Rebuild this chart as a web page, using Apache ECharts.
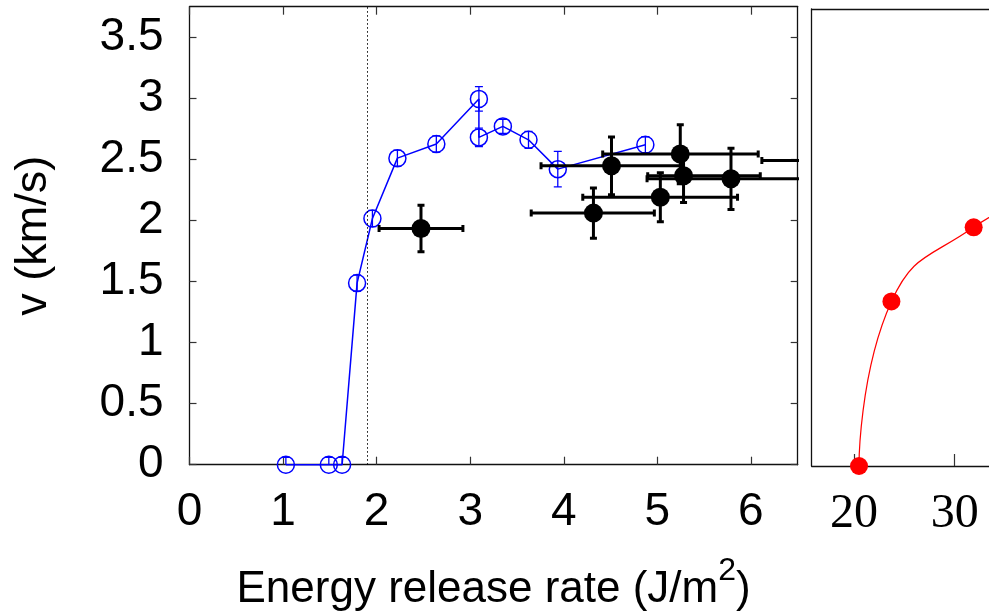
<!DOCTYPE html>
<html><head><meta charset="utf-8">
<script src="https://cdn.jsdelivr.net/npm/echarts@6/dist/echarts.min.js"></script>
<style>html,body{margin:0;padding:0;background:#fff}#c{width:989px;height:616px}</style>
</head><body><div id="c"></div>
<script>
// ---- data ----
const blueX   = [1.03, 1.489, 1.631, 1.791, 1.955, 2.222, 2.638, 3.093, 3.093, 3.349, 3.623, 3.936, 4.872];
const blueY   = [0, 0, 0, 1.487, 2.016, 2.51, 2.626, 2.995, 2.68, 2.77, 2.66, 2.42, 2.62];
const blueErr = [0.06, 0.06, 0.06, 0.066, 0.066, 0.066, 0.066, 0.1, 0.075, 0.057, 0.07, 0.146, 0.065];

const blackX     = [2.474, 4.317, 4.51, 5.032, 5.245, 5.28, 5.787, 7.0];
const blackY     = [1.934, 2.06, 2.448, 2.19, 2.544, 2.366, 2.342, 2.49];
const blackXLow  = [2.026, 3.652, 3.757, 4.203, 4.416, 4.897, 4.89, 6.117];
const blackXHigh = [2.922, 4.968, 5.26, 5.857, 6.078, 6.10, 6.70, 7.9];
const blackYLow  = [1.744, 1.855, 2.21, 1.99, 2.30, 2.146, 2.09, 2.25];
const blackYHigh = [2.124, 2.265, 2.684, 2.39, 2.784, 2.586, 2.59, 2.73];

const redX = [20.5, 23.72, 31.89, 40.0];
const redY = [0, 1.35, 1.959, 2.28];

const thresholdX = 1.9;
const leftXTicks  = [0, 1, 2, 3, 4, 5, 6];
const leftYTicks  = [0, 0.5, 1, 1.5, 2, 2.5, 3, 3.5];
const rightXTicks = [20, 30, 40, 50, 60, 70];

// ---- chart ----
const SANS = "'Liberation Sans', Arial, sans-serif";
const SERIF = "'Liberation Serif', 'Times New Roman', serif";
const frame = {show: true, onZero: false, lineStyle: {color: '#111', width: 1.3}};
const tickIn = (vals, len) => ({show: true, inside: true, length: len, customValues: vals, lineStyle: {color: '#333', width: 1.2}});

const chart = echarts.init(document.getElementById('c'), null, {renderer: 'canvas'});

function blueErrRender(params, api) {
  const x = api.value(0), y = api.value(1), e = api.value(2);
  const t = api.coord([x, y + e]), b = api.coord([x, y - e]);
  const c = 4, st = {stroke: '#0000ff', lineWidth: 1.3};
  return {type: 'group', children: [
    {type: 'line', shape: {x1: t[0], y1: t[1], x2: b[0], y2: b[1]}, style: st},
    {type: 'line', shape: {x1: t[0] - c, y1: t[1], x2: t[0] + c, y2: t[1]}, style: st},
    {type: 'line', shape: {x1: b[0] - c, y1: b[1], x2: b[0] + c, y2: b[1]}, style: st}
  ]};
}
function blackErrRender(params, api) {
  const x = api.value(0), y = api.value(1);
  const pL = api.coord([api.value(2), y]), pR = api.coord([api.value(3), y]);
  const pB = api.coord([x, api.value(4)]), pT = api.coord([x, api.value(5)]);
  const c = 3.5, st = {stroke: '#000', lineWidth: 3};
  return {type: 'group', children: [
    {type: 'line', shape: {x1: pL[0], y1: pL[1], x2: pR[0], y2: pR[1]}, style: st},
    {type: 'line', shape: {x1: pL[0], y1: pL[1] - c, x2: pL[0], y2: pL[1] + c}, style: st},
    {type: 'line', shape: {x1: pR[0], y1: pR[1] - c, x2: pR[0], y2: pR[1] + c}, style: st},
    {type: 'line', shape: {x1: pT[0], y1: pT[1], x2: pB[0], y2: pB[1]}, style: st},
    {type: 'line', shape: {x1: pT[0] - c, y1: pT[1], x2: pT[0] + c, y2: pT[1]}, style: st},
    {type: 'line', shape: {x1: pB[0] - c, y1: pB[1], x2: pB[0] + c, y2: pB[1]}, style: st}
  ]};
}

const option = {
  animation: false,
  backgroundColor: '#fff',
  grid: [
    {left: 189.5, top: 6.7, width: 608.2, height: 458, containLabel: false, outerBoundsMode: 'none'},
    {left: 811.7, top: 9, width: 604, height: 457, containLabel: false, outerBoundsMode: 'none'}
  ],
  xAxis: [
    {gridIndex: 0, type: 'value', position: 'bottom', min: 0, max: 6.5,
     axisLine: frame, axisTick: tickIn(leftXTicks, 8), splitLine: {show: false},
     axisLabel: {customValues: leftXTicks, fontFamily: SANS, fontSize: 46, color: '#000', margin: 25},
     name: '{a|Energy release rate (J/m}{s|2}{a|)}', nameLocation: 'middle', nameGap: 101,
     nameTextStyle: {rich: {
       a: {fontFamily: SANS, fontSize: 44, color: '#000', lineHeight: 46, verticalAlign: 'bottom'},
       s: {fontFamily: SANS, fontSize: 32, color: '#000', lineHeight: 32, padding: [0, 0, 25, 0], verticalAlign: 'bottom'}
     }}},
    {gridIndex: 0, type: 'value', position: 'top', min: 0, max: 6.5,
     axisLine: frame, axisTick: tickIn(leftXTicks, 8), axisLabel: {show: false}, splitLine: {show: false}},
    {gridIndex: 1, type: 'value', position: 'bottom', min: 15.8, max: 75.8,
     axisLine: frame, axisTick: tickIn(rightXTicks, 12), splitLine: {show: false},
     axisLabel: {customValues: rightXTicks, fontFamily: SERIF, fontSize: 48, color: '#000', margin: 24}},
    {gridIndex: 1, type: 'value', position: 'top', min: 15.8, max: 75.8,
     axisLine: frame, axisTick: {show: false}, axisLabel: {show: false}, splitLine: {show: false}}
  ],
  yAxis: [
    {gridIndex: 0, type: 'value', position: 'left', min: 0, max: 3.75,
     axisLine: frame, axisTick: tickIn(leftYTicks, 7), splitLine: {show: false},
     axisLabel: {customValues: leftYTicks, fontFamily: SANS, fontSize: 46, color: '#000', margin: 26},
     name: 'v (km/s)', nameLocation: 'middle', nameRotate: 90, nameGap: 133,
     nameTextStyle: {fontFamily: SANS, fontSize: 45, color: '#000'}},
    {gridIndex: 0, type: 'value', position: 'right', min: 0, max: 3.75,
     axisLine: frame, axisTick: tickIn(leftYTicks, 7), axisLabel: {show: false}, splitLine: {show: false}},
    {gridIndex: 1, type: 'value', position: 'left', min: 0, max: 3.75,
     axisLine: frame, axisTick: {show: false}, axisLabel: {show: false}, splitLine: {show: false}}
  ],
  series: [
    {type: 'line', xAxisIndex: 0, yAxisIndex: 0, clip: false, z: 3,
     data: blueX.map((x, i) => [x, blueY[i]]),
     symbol: 'circle', symbolSize: 17,
     itemStyle: {color: 'rgba(255,255,255,0)', borderColor: '#0000ff', borderWidth: 1.5},
     lineStyle: {color: '#0000ff', width: 1.5},
     emphasis: {disabled: true},
     markLine: {silent: true, symbol: 'none', label: {show: false},
       lineStyle: {color: '#000', width: 1, type: [1.5, 2.5]},
       data: [{xAxis: thresholdX}]}},
    {type: 'custom', xAxisIndex: 0, yAxisIndex: 0, clip: true, z: 3,
     data: blueX.map((x, i) => [x, blueY[i], blueErr[i]]),
     encode: {x: 0, y: 1}, renderItem: blueErrRender},
    {type: 'custom', xAxisIndex: 0, yAxisIndex: 0, clip: true, z: 4,
     data: blackX.map((x, i) => [x, blackY[i], blackXLow[i], blackXHigh[i], blackYLow[i], blackYHigh[i]]),
     encode: {x: 0, y: 1}, renderItem: blackErrRender},
    {type: 'scatter', xAxisIndex: 0, yAxisIndex: 0, clip: true, z: 5,
     data: blackX.map((x, i) => [x, blackY[i]]),
     symbol: 'circle', symbolSize: 19, itemStyle: {color: '#000', opacity: 1}, emphasis: {disabled: true}},
    {type: 'line', xAxisIndex: 2, yAxisIndex: 2, clip: false, z: 3, smooth: 0.5,
     data: redX.map((x, i) => [x, redY[i]]),
     symbol: 'circle', symbolSize: 18,
     itemStyle: {color: '#ff0000'}, lineStyle: {color: '#ff0000', width: 1.2},
     emphasis: {disabled: true}}
  ]
};
chart.setOption(option);
</script>
</body></html>
